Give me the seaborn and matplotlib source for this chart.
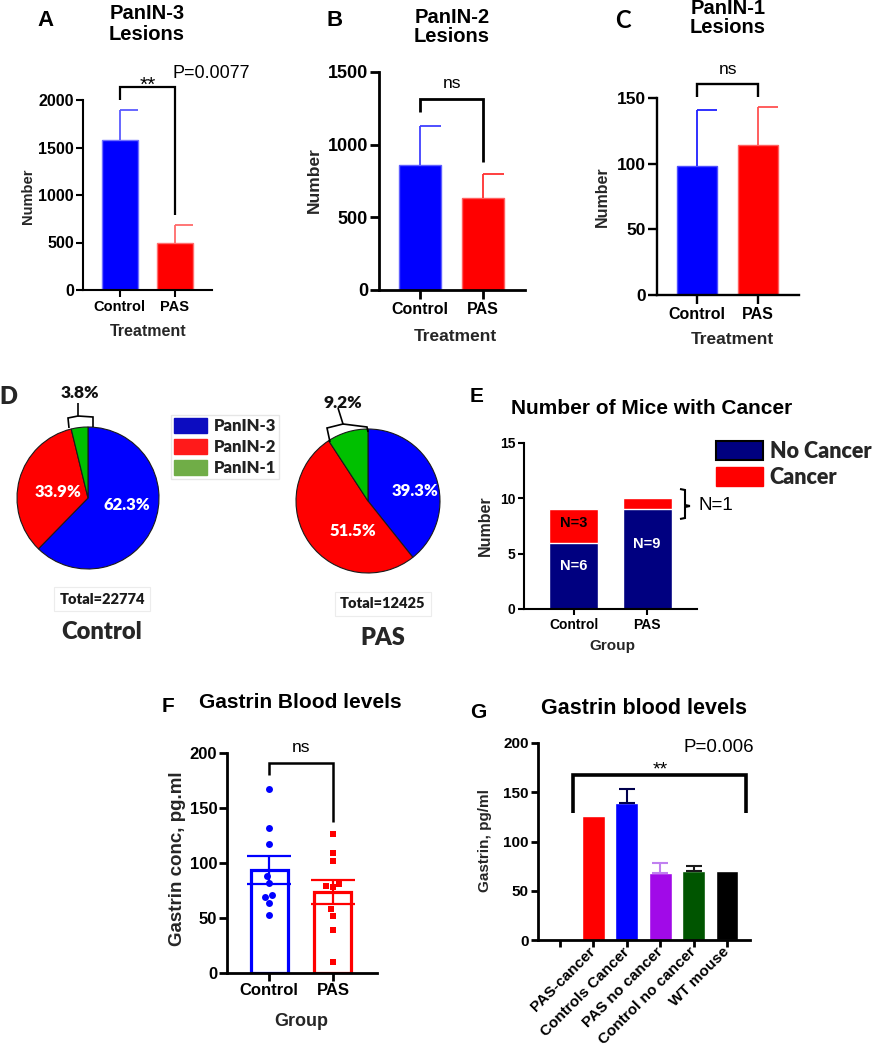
import numpy as np
import pandas as pd
import matplotlib
matplotlib.use("Agg")
import matplotlib.pyplot as plt
import seaborn as sns
from matplotlib.patches import Patch
from matplotlib.lines import Line2D
from matplotlib.font_manager import FontProperties

# ---------------- data ----------------
groups = ["Control", "PAS"]
panin3_mean = [1575, 490]
panin3_err = [315, 190]
panin2_mean = [860, 635]
panin2_err = [270, 160]
panin1_mean = [98, 114.5]
panin1_err = [43, 28.5]

pie_classes = ["PanIN-3", "PanIN-2", "PanIN-1"]
control_pct = [62.3, 33.9, 3.8]
pas_pct = [39.3, 51.5, 9.2]
control_total = 22774
pas_total = 12425

no_cancer = [6, 9]
cancer = [3, 1]

gastrin_control = [167, 132, 117, 88, 82, 71, 69, 64, 53]
gastrin_pas = [126, 109, 102, 81, 79, 78, 58, 52, 39, 10]

g_order = ["", "PAS-cancer", "Controls Cancer", "PAS no cancer", "Control no cancer", "WT mouse"]
g_groups = ["PAS-cancer", "Controls Cancer", "PAS no cancer", "Control no cancer", "WT mouse"]
g_mean = [126, 139, 68, 70, 70]
g_err = [0, 14, 10, 5, 0]

# ---------------- styling ----------------
BLUE, RED = "#0000ff", "#ff0000"
NAVY = "#000080"
pie_colors = ["#0000ff", "#ff0000", "#00c000"]
legend_colors = ["#0c0cc0", "#ff1a1a", "#70ad47"]
g_colors = ["#ff0000", "#0000ff", "#a10ae8", "#005500", "#000000"]
g_err_colors = ["#ff0000", "#00004d", "#c080f0", "#1a1a1a", "#000000"]

sns.set_style("ticks")
plt.rcParams['font.family'] = ['Liberation Sans', 'DejaVu Sans']

W, H = 876, 1050
fig = plt.figure(figsize=(W / 100, H / 100), dpi=100)


def fx(x):
    return x / W


def fy(y):
    return 1 - y / H


def add_ax(x0, y0, x1, y1):
    return fig.add_axes([fx(x0), fy(y1), (x1 - x0) / W, (y1 - y0) / H])


def ftext(x, y, s, size, weight='bold', family=None, color='black', ha='center', va='center', **kw):
    kws = dict(fontsize=size, fontweight=weight, color=color, ha=ha, va=va)
    if family:
        kws['family'] = family
    kws.update(kw)
    return fig.text(fx(x), fy(y), s, **kws)


def fig_line(pts, lw=1.5, color='black'):
    xs = [fx(p[0]) for p in pts]
    ys = [fy(p[1]) for p in pts]
    fig.add_artist(Line2D(xs, ys, transform=fig.transFigure, lw=lw, color=color,
                          solid_joinstyle='miter', solid_capstyle='butt'))


def style_axis(ax, lw, tick_len, ysize, xsize):
    sns.despine(ax=ax)
    for s in ('left', 'bottom'):
        ax.spines[s].set_linewidth(lw)
        ax.spines[s].set_color('black')
    ax.tick_params(axis='both', which='major', direction='out', length=tick_len, width=lw,
                   color='black', labelcolor='black', pad=2)
    ax.tick_params(axis='y', labelsize=ysize, pad=1.5)
    ax.tick_params(axis='x', labelsize=xsize)
    for lab in ax.get_xticklabels() + ax.get_yticklabels():
        lab.set_fontweight('bold')


def place_labels(ax, xlabel, xpos, xsize, ylabel, ypos, ysize):
    if xlabel:
        ax.set_xlabel(xlabel, fontsize=xsize, fontweight='bold')
        ax.xaxis.set_label_coords(fx(xpos[0]), fy(xpos[1]), transform=fig.transFigure)
        ax.xaxis.label.set_va('center')
    else:
        ax.set_xlabel('')
    ax.set_ylabel(ylabel, fontsize=ysize, fontweight='bold')
    ax.yaxis.set_label_coords(fx(ypos[0]), fy(ypos[1]), transform=fig.transFigure)
    ax.yaxis.label.set_va('center')
    ax.yaxis.label.set_ha('center')


def bracket(ax, x0, x1, top, lb, rb, lw):
    ax.plot([x0, x0, x1, x1], [lb, top, top, rb], color='black', lw=lw, clip_on=False,
            solid_joinstyle='miter', solid_capstyle='butt')


def lesion_panel(rect, means, errs, ymax, yticks, lw, tick_len, ysize, xsize, width,
                 err_colors, edge_colors, xlab_pos, ylab_pos, lab_size):
    ax = add_ax(*rect)
    df = pd.DataFrame({"Treatment": groups, "Number": means})
    sns.barplot(data=df, x="Treatment", y="Number", hue="Treatment", palette=[BLUE, RED],
                saturation=1, width=width, legend=False, errorbar=None, linewidth=1, ax=ax)
    for p, ec in zip(ax.patches, edge_colors):
        p.set_edgecolor(ec)
    for i, (m, e, c) in enumerate(zip(means, errs, err_colors)):
        ax.vlines(i, m, m + e, color=c, lw=1.3)
        ax.hlines(m + e, i, i + 0.33, color=c, lw=1.3)
    ax.set_ylim(0, ymax)
    ax.set_yticks(yticks)
    ax.set_xlim(-0.66, 1.67)
    style_axis(ax, lw, tick_len, ysize, xsize)
    place_labels(ax, "Treatment", xlab_pos, lab_size[0], "Number", ylab_pos, lab_size[1])
    return ax


# ---------------- Panel A ----------------
axA = lesion_panel((83, 100, 212, 290), panin3_mean, panin3_err, 2000, [0, 500, 1000, 1500, 2000],
                   1.5, 5, 11.5, 10.5, 0.65, ["#5a5aff", "#ff6a6a"], ["#7070ff", "#ff7070"],
                   (148, 331), (28, 196), (11.5, 10.5))
bracket(axA, 0, 1, 2137, 2000, 790, 1.6)
ftext(45, 21, "A", 16)
ftext(147, 24, "PanIN-3\nLesions", 14.5, linespacing=1.1)
ftext(148, 91, "**", 15, weight='normal', va='baseline')
ftext(211, 73, "P=0.0077", 13, weight='normal')

# ---------------- Panel B ----------------
axB = lesion_panel((379, 72, 525, 290), panin2_mean, panin2_err, 1500, [0, 500, 1000, 1500],
                   2, 6.5, 13, 11.5, 0.67, ["#4040ff", "#ff3030"], ["#6060ff", "#ff6060"],
                   (455, 337), (314, 180), (12.5, 12.5))
bracket(axB, 0, 1, 1315, 1225, 880, 2)
ftext(335, 20, "B", 16)
ftext(452, 27, "PanIN-2\nLesions", 14.5, linespacing=1.05)
ftext(452, 83, "ns", 12.5, weight='normal')

# ---------------- Panel C ----------------
axC = lesion_panel((657, 98, 799, 295), panin1_mean, panin1_err, 150, [0, 50, 100, 150],
                   1.7, 6.5, 12.5, 11.5, 0.66, ["#2020ff", "#ff5050"], ["#5050ff", "#ff6060"],
                   (732, 339), (602, 197), (12.5, 11.5))
bracket(axC, 0, 1, 161, 150.6, 150.6, 1.7)
ftext(623, 20, "C", 17, family='Lato')
ftext(728, 18, "PanIN-1\nLesions", 14.5, linespacing=1.05)
ftext(728, 69, "ns", 12.5, weight='normal')

# ---------------- Panel D (pies) ----------------
def lato(size, weight='bold'):
    return FontProperties(family='Lato', weight=weight, size=size)


def pie_panel(rect, pct, label_xy):
    ax = add_ax(*rect)
    wedges, _ = ax.pie(pct, colors=pie_colors, startangle=90, counterclock=False, radius=1,
                       wedgeprops=dict(edgecolor='#1a1a1a', linewidth=0.8))
    for w in wedges:
        w.set_clip_on(False)
    ax.set_xlim(-1, 1)
    ax.set_ylim(-1, 1)
    for v, (lx, ly) in zip(pct, label_xy):
        if lx is not None:
            ax.text(lx, ly, f"{v:.1f}%", color='white', fontproperties=lato(12, 'heavy'),
                    ha='center', va='center')
    return ax


axD1 = pie_panel((17, 427, 159, 569), control_pct, [(0.55, -0.10), (-0.42, 0.08), (None, None)])
axD2 = pie_panel((296, 429, 440, 573), pas_pct, [(0.65, 0.14), (-0.21, -0.42), (None, None)])

# small-wedge call-outs
fig_line([(69, 428), (68, 418), (78, 416), (78, 403)], lw=1.2)
fig_line([(78, 416), (93, 417), (93, 427)], lw=1.2)
fig.text(fx(80), fy(393), f"{control_pct[2]:.1f}%", color='#111111', ha='center', va='center',
         fontproperties=lato(12.5, 'heavy'))
fig_line([(330, 442), (327, 428), (343, 424), (338, 408)], lw=1.2)
fig_line([(343, 424), (367, 427), (368, 432)], lw=1.2)
fig.text(fx(343), fy(403), f"{pas_pct[2]:.1f}%", color='#111111', ha='center', va='center',
         fontproperties=lato(12.5, 'heavy'))

box = dict(boxstyle='square,pad=0.35', fc='white', ec='#ececec', lw=0.8)
fig.text(fx(102), fy(599), f"Total={control_total}", color='#1a1a1a', ha='center', va='center',
         bbox=box, fontproperties=lato(10.5, 'heavy'))
fig.text(fx(383), fy(604), f"Total={pas_total}", color='#1a1a1a', ha='center', va='center',
         bbox=box, fontproperties=lato(10.5, 'heavy'))
fig.text(fx(102), fy(632), "Control", ha='center', va='center', fontproperties=lato(17, 'heavy'))
fig.text(fx(383), fy(638), "PAS", ha='center', va='center', fontproperties=lato(17, 'heavy'))
fig.text(fx(8), fy(397), "D", ha='center', va='center', fontproperties=lato(17, 'heavy'))

legD = fig.legend([Patch(fc=c, ec=c) for c in legend_colors], pie_classes,
                  loc='upper left', bbox_to_anchor=(fx(171), fy(415)),
                  prop=lato(12, 'heavy'),
                  handlelength=1.95, handleheight=1.0, labelspacing=0.28, handletextpad=0.4,
                  borderpad=0.2, borderaxespad=0, frameon=True, fancybox=False,
                  edgecolor='#e6e6e6', framealpha=1)
for t in legD.get_texts():
    t.set_color('#222222')

# ---------------- Panel E ----------------
axE = add_ax(524, 443, 697, 609)
df_e = pd.DataFrame({"Group": groups, "total": np.add(no_cancer, cancer), "no_cancer": no_cancer})
sns.barplot(data=df_e, x="Group", y="total", color=RED, saturation=1, width=0.67,
            errorbar=None, ax=axE)
sns.barplot(data=df_e, x="Group", y="no_cancer", color=NAVY, saturation=1, width=0.67,
            errorbar=None, ax=axE)
axE.set_ylim(0, 15)
axE.set_yticks([0, 5, 10, 15])
axE.set_xlim(-0.68, 1.68)
style_axis(axE, 1.5, 4.5, 10, 10)
place_labels(axE, "Group", (612, 646), 11, "Number", (485, 526), 11.5)
for i, (nc, c) in enumerate(zip(no_cancer, cancer)):
    axE.text(i, nc * 0.65, f"N={nc}", color='white', fontsize=10.5, fontweight='bold',
             ha='center', va='center')
    if c > 1:
        axE.text(i, nc + c * 0.6, f"N={c}", color='black', fontsize=10.5, fontweight='bold',
                 ha='center', va='center')
fig_line([(680, 489), (685, 490), (685, 505), (690, 506)], lw=1.5)
fig_line([(690, 506), (685, 507), (685, 518), (680, 519)], lw=1.5)
ftext(716, 506, f"N={cancer[1]}", 13.5, weight='normal')
ftext(652, 408, "Number of Mice with Cancer", 15)
ftext(477, 397, "E", 15)
fig.legend([Patch(fc=NAVY, ec='black', lw=1.5), Patch(fc=RED, ec=RED)], ["No Cancer", "Cancer"],
           loc='upper left', bbox_to_anchor=(fx(716), fy(441)),
           prop=lato(15.5, 'heavy'),
           handlelength=2.2, handleheight=0.98, labelspacing=0.24, handletextpad=0.3,
           borderpad=0, borderaxespad=0, frameon=False)

# ---------------- Panel F ----------------
axF = add_ax(227, 753, 377, 973)
df_f = pd.DataFrame({"Group": ["Control"] * len(gastrin_control) + ["PAS"] * len(gastrin_pas),
                     "Gastrin": gastrin_control + gastrin_pas})
sns.barplot(data=df_f, x="Group", y="Gastrin", hue="Group", order=groups, palette=[BLUE, RED],
            fill=False, linewidth=2.3, width=0.58, errorbar=None, saturation=1, legend=False, ax=axF)
sns.swarmplot(data=df_f[df_f.Group == "Control"], x="Group", y="Gastrin", order=groups,
              color=BLUE, marker='o', size=5, linewidth=0, ax=axF)
sns.swarmplot(data=df_f[df_f.Group == "PAS"], x="Group", y="Gastrin", order=groups,
              color=RED, marker='s', size=5, linewidth=0, ax=axF)
for i, (vals, c) in enumerate(zip([gastrin_control, gastrin_pas], [BLUE, RED])):
    m = np.mean(vals)
    sem = np.std(vals, ddof=1) / np.sqrt(len(vals))
    axF.errorbar(i, m, yerr=sem, fmt='none', ecolor=c, elinewidth=1.6, capsize=16, capthick=1.6)
axF.set_ylim(0, 200)
axF.set_yticks([0, 50, 100, 150, 200])
axF.set_xlim(-0.66, 1.69)
style_axis(axF, 2, 5.5, 12, 12)
place_labels(axF, "Group", (301, 1022), 13, "Gastrin conc, pg.ml", (177, 859), 13.5)
bracket(axF, 0, 1, 191, 180, 137, 1.8)
ftext(301, 747, "ns", 12.5, weight='normal')
ftext(300, 703, "Gastrin Blood levels", 15)
ftext(168, 706, "F", 15)

# ---------------- Panel G ----------------
axG = add_ax(538, 743, 750, 940)
df_g = pd.DataFrame({"Group": g_groups, "Gastrin": g_mean})
sns.barplot(data=df_g, x="Group", y="Gastrin", hue="Group", order=g_order, hue_order=g_groups,
            palette=g_colors, saturation=1, width=0.68, errorbar=None, legend=False, ax=axG)
for grp, m, e, c in zip(g_groups, g_mean, g_err, g_err_colors):
    if e > 0:
        pos = g_order.index(grp)
        axG.errorbar(pos, m, yerr=[[0], [e]], fmt='none', ecolor=c, elinewidth=1.5,
                     capsize=6, capthick=1.5)
axG.set_ylim(0, 200)
axG.set_yticks([0, 50, 100, 150, 200])
axG.set_xlim(-0.66, 5.69)
style_axis(axG, 2, 5, 11, 11)
for lab in axG.get_xticklabels():
    lab.set_rotation(45)
    lab.set_ha('right')
    lab.set_va('center')
    lab.set_rotation_mode('anchor')
place_labels(axG, None, None, None, "Gastrin, pg/ml", (485, 840), 11)
bracket(axG, 0.39, 5.57, 168, 128.5, 128.5, 2.6)
ftext(660, 774, "**", 14, weight='normal', va='baseline')
ftext(719, 748, "P=0.006", 13.5, weight='normal')
ftext(644, 709, "Gastrin blood levels", 15.5)
ftext(478, 712, "G", 15)

fig.savefig("out.png", dpi=100, facecolor='white')
